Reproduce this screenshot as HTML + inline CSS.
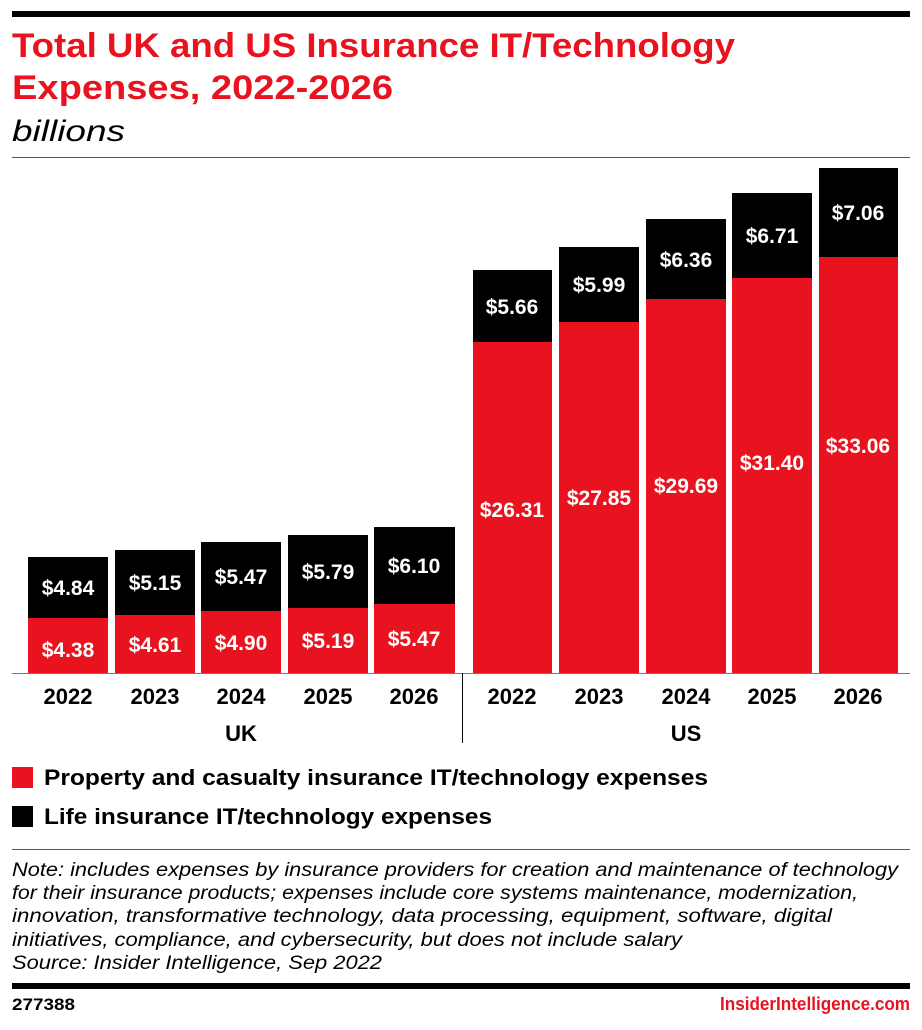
<!DOCTYPE html>
<html><head><style>
body{margin:0;background:#fff}
svg text{font-family:"Liberation Sans",sans-serif}
</style></head><body>
<svg width="922" height="1025" viewBox="0 0 922 1025" xmlns="http://www.w3.org/2000/svg">
<rect x="12" y="11" width="898" height="6" fill="#000"/>
<text x="12" y="57" font-size="34" font-weight="bold" fill="#e8131f" textLength="723" lengthAdjust="spacingAndGlyphs">Total UK and US Insurance IT/Technology</text>
<text x="12" y="99" font-size="34" font-weight="bold" fill="#e8131f" textLength="381" lengthAdjust="spacingAndGlyphs">Expenses, 2022-2026</text>
<text x="12" y="141" font-size="30" font-style="italic" fill="#000" textLength="113" lengthAdjust="spacingAndGlyphs">billions</text>
<rect x="12" y="157" width="898" height="1" fill="#555"/>
<g font-size="21" font-weight="bold" fill="#fff" text-anchor="middle">
<rect x="28" y="618" width="80" height="55" fill="#e8131f"/><rect x="28" y="557" width="80" height="61" fill="#000"/>
<text x="68" y="657">$4.38</text><text x="68" y="595">$4.84</text>
<rect x="115" y="615" width="80" height="58" fill="#e8131f"/><rect x="115" y="550" width="80" height="65" fill="#000"/>
<text x="155" y="652">$4.61</text><text x="155" y="590">$5.15</text>
<rect x="201" y="611" width="80" height="62" fill="#e8131f"/><rect x="201" y="542" width="80" height="69" fill="#000"/>
<text x="241" y="650">$4.90</text><text x="241" y="584">$5.47</text>
<rect x="288" y="608" width="80" height="65" fill="#e8131f"/><rect x="288" y="535" width="80" height="73" fill="#000"/>
<text x="328" y="648">$5.19</text><text x="328" y="579">$5.79</text>
<rect x="374" y="604" width="81" height="69" fill="#e8131f"/><rect x="374" y="527" width="81" height="77" fill="#000"/>
<text x="414" y="646">$5.47</text><text x="414" y="573">$6.10</text>
<rect x="473" y="342" width="79" height="331" fill="#e8131f"/><rect x="473" y="270" width="79" height="72" fill="#000"/>
<text x="512" y="517">$26.31</text><text x="512" y="314">$5.66</text>
<rect x="559" y="322" width="80" height="351" fill="#e8131f"/><rect x="559" y="247" width="80" height="75" fill="#000"/>
<text x="599" y="505">$27.85</text><text x="599" y="292">$5.99</text>
<rect x="646" y="299" width="80" height="374" fill="#e8131f"/><rect x="646" y="219" width="80" height="80" fill="#000"/>
<text x="686" y="493">$29.69</text><text x="686" y="267">$6.36</text>
<rect x="732" y="278" width="80" height="395" fill="#e8131f"/><rect x="732" y="193" width="80" height="85" fill="#000"/>
<text x="772" y="470">$31.40</text><text x="772" y="243">$6.71</text>
<rect x="819" y="257" width="79" height="416" fill="#e8131f"/><rect x="819" y="168" width="79" height="89" fill="#000"/>
<text x="858" y="453">$33.06</text><text x="858" y="220">$7.06</text>
</g>
<rect x="12" y="673" width="898" height="1" fill="#777"/>
<rect x="462" y="673" width="1" height="70" fill="#000"/>
<g font-size="22" font-weight="bold" fill="#000" text-anchor="middle">
<text x="68" y="704">2022</text><text x="155" y="704">2023</text><text x="241" y="704">2024</text><text x="328" y="704">2025</text><text x="414" y="704">2026</text>
<text x="512" y="704">2022</text><text x="599" y="704">2023</text><text x="686" y="704">2024</text><text x="772" y="704">2025</text><text x="858" y="704">2026</text>
<text x="241" y="741">UK</text><text x="686" y="741">US</text>
</g>
<rect x="12" y="767" width="21" height="21" fill="#e8131f"/>
<rect x="12" y="806" width="21" height="21" fill="#000"/>
<text x="44" y="785" font-size="22" font-weight="bold" textLength="664" lengthAdjust="spacingAndGlyphs">Property and casualty insurance IT/technology expenses</text>
<text x="44" y="824" font-size="22" font-weight="bold" textLength="448" lengthAdjust="spacingAndGlyphs">Life insurance IT/technology expenses</text>
<rect x="12" y="849" width="898" height="1" fill="#555"/>
<g font-size="19" font-style="italic" fill="#000">
<text x="12" y="876" textLength="886" lengthAdjust="spacingAndGlyphs">Note: includes expenses by insurance providers for creation and maintenance of technology</text>
<text x="12" y="899" textLength="846" lengthAdjust="spacingAndGlyphs">for their insurance products; expenses include core systems maintenance, modernization,</text>
<text x="12" y="922" textLength="820" lengthAdjust="spacingAndGlyphs">innovation, transformative technology, data processing, equipment, software, digital</text>
<text x="12" y="946" textLength="670" lengthAdjust="spacingAndGlyphs">initiatives, compliance, and cybersecurity, but does not include salary</text>
<text x="12" y="969" textLength="370" lengthAdjust="spacingAndGlyphs">Source: Insider Intelligence, Sep 2022</text>
</g>
<rect x="12" y="983" width="898" height="6" fill="#000"/>
<text x="12" y="1010" font-size="17" font-weight="bold" textLength="63" lengthAdjust="spacingAndGlyphs">277388</text>
<text x="910" y="1010" font-size="18" font-weight="bold" fill="#e8131f" text-anchor="end" textLength="190" lengthAdjust="spacingAndGlyphs">InsiderIntelligence.com</text>
</svg>
</body></html>
